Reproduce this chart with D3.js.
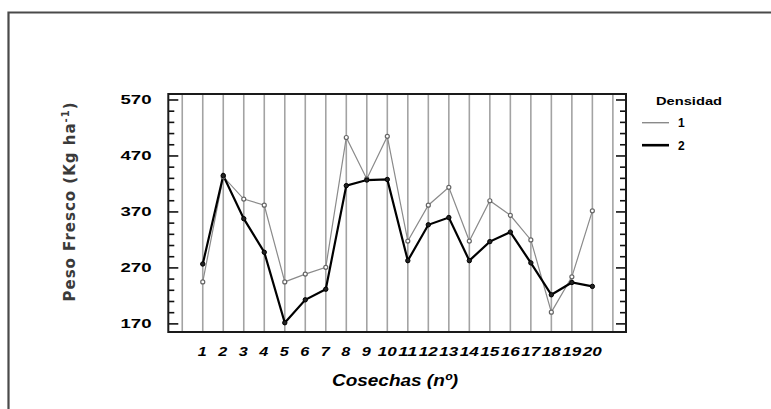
<!DOCTYPE html>
<html><head><meta charset="utf-8">
<script src="https://cdn.jsdelivr.net/npm/d3@7"></script>
<style>body{margin:0;background:#fff}svg{display:block}</style>
</head><body>
<svg id="c" width="771" height="409"></svg>
<script>
const categories = d3.range(1, 21);
const xTickLabels = categories.map(String);
const series1 = [245, 433, 393, 382, 245, 259, 271, 503, 429, 505, 318, 382, 414, 318, 390, 364, 320, 191, 254, 372];
const series2 = [277, 435, 358, 298, 172, 213, 232, 417, 427, 428, 283, 347, 360, 283, 317, 334, 279, 222, 244, 237];
const yTicks = [170, 270, 370, 470, 570];
const yMinor = d3.range(170, 571, 20);
const seriesNames = ["1", "2"];
const legendTitle = "Densidad";
const yTitle = "Peso Fresco (Kg ha";
const xTitle = "Cosechas (nº)";

const svg = d3.select("#c");
const x = d3.scaleLinear().domain([-0.68, 21.64]).range([168.3, 626]);
const y = d3.scaleLinear().domain([155.5, 580.7]).range([332, 94]);
const [x0, x1] = x.range(), [yb, yt] = y.range();

// outer frame
svg.append("path").attr("d", `M8.5,409 V12.5 H771`).attr("fill", "none")
  .attr("stroke", "#4a4a4a").attr("stroke-width", 2.2);

// gridlines
svg.append("g").selectAll("line").data(d3.range(0, 22)).join("line")
  .attr("x1", d => x(d)).attr("x2", d => x(d)).attr("y1", yt).attr("y2", yb)
  .attr("stroke", "#a3a3a3").attr("stroke-width", 1.6);

// ticks left & right
const tk = svg.append("g").attr("stroke", "#111").attr("stroke-width", 1.6);
yMinor.forEach(v => {
  const major = yTicks.includes(v);
  const L = major ? 10 : 6;
  tk.append("line").attr("x1", x0).attr("x2", x0 + L).attr("y1", y(v)).attr("y2", y(v));
  tk.append("line").attr("x1", x1).attr("x2", x1 - L).attr("y1", y(v)).attr("y2", y(v));
});

// box
svg.append("rect").attr("x", x0).attr("y", yt).attr("width", x1 - x0).attr("height", yb - yt)
  .attr("fill", "none").attr("stroke", "#1a1a1a").attr("stroke-width", 2);

const bold = "'Liberation Sans Narrow','Arial Narrow','Liberation Sans',Arial,sans-serif";

// y tick labels
svg.append("g").selectAll("text").data(yTicks).join("text")
  .attr("x", 151.5).attr("y", d => y(d) + 4.5).attr("text-anchor", "end")
  .attr("font-family", bold).attr("font-weight", "bold").attr("font-size", 13)
  .attr("textLength", 31).attr("lengthAdjust", "spacingAndGlyphs")
  .attr("fill", "#000").text(d => d);

// x tick labels
svg.append("g").selectAll("text").data(categories).join("text")
  .attr("x", d => x(d) - (String(d).length > 1 ? 9.5 : 5)).attr("y", 356)
  .attr("font-family", bold).attr("font-weight", "bold").attr("font-style", "italic").attr("font-size", 13)
  .attr("textLength", d => String(d).length > 1 ? 19 : 9).attr("lengthAdjust", "spacingAndGlyphs")
  .attr("fill", "#000").text((d, i) => xTickLabels[i]);

// lines
const line = d3.line().x((d, i) => x(categories[i])).y(d => y(d));
svg.append("path").datum(series1).attr("d", line).attr("fill", "none")
  .attr("stroke", "#8a8a8a").attr("stroke-width", 1.2);
svg.append("path").datum(series2).attr("d", line).attr("fill", "none")
  .attr("stroke", "#000").attr("stroke-width", 2.2);
svg.append("g").selectAll("circle").data(series1).join("circle")
  .attr("cx", (d, i) => x(categories[i])).attr("cy", d => y(d)).attr("r", 2)
  .attr("fill", "#fff").attr("stroke", "#666").attr("stroke-width", 1.2);
svg.append("g").selectAll("circle").data(series2).join("circle")
  .attr("cx", (d, i) => x(categories[i])).attr("cy", d => y(d)).attr("r", 2.2)
  .attr("fill", "#222").attr("stroke", "#000").attr("stroke-width", 1);

// y title
const yt1 = svg.append("text").attr("transform", "translate(74.5,201.5) rotate(-90)")
  .attr("text-anchor", "middle").attr("font-family", "'DejaVu Sans',Verdana,sans-serif")
  .attr("font-size", 15).attr("font-weight", "bold").attr("letter-spacing", 1).attr("fill", "#3a3a3a");
yt1.append("tspan").text(yTitle);
yt1.append("tspan").attr("dy", -6).attr("font-size", 10).text("-1");
yt1.append("tspan").attr("dy", 6).text(")");

// x title
svg.append("text").attr("x", 332).attr("y", 386)
  .attr("font-family", bold).attr("font-weight", "bold").attr("font-style", "italic").attr("font-size", 16)
  .attr("textLength", 126).attr("lengthAdjust", "spacingAndGlyphs").attr("fill", "#000").text(xTitle);

// legend
svg.append("text").attr("x", 656).attr("y", 105).attr("font-family", bold).attr("font-weight", "bold")
  .attr("font-size", 11).attr("textLength", 66).attr("lengthAdjust", "spacingAndGlyphs").text(legendTitle);
const lg = svg.append("g").selectAll("g").data(seriesNames).join("g");
lg.append("line").attr("x1", 642).attr("x2", 669).attr("y1", (d, i) => 122.7 + i * 22.5).attr("y2", (d, i) => 122.7 + i * 22.5)
  .attr("stroke", (d, i) => i ? "#000" : "#8a8a8a").attr("stroke-width", (d, i) => i ? 2.6 : 1.4);
lg.append("text").attr("x", 678).attr("y", (d, i) => 127 + i * 22.5).attr("font-family", bold).attr("font-weight", "bold")
  .attr("font-size", 12).text(d => d);
</script>
</body></html>
